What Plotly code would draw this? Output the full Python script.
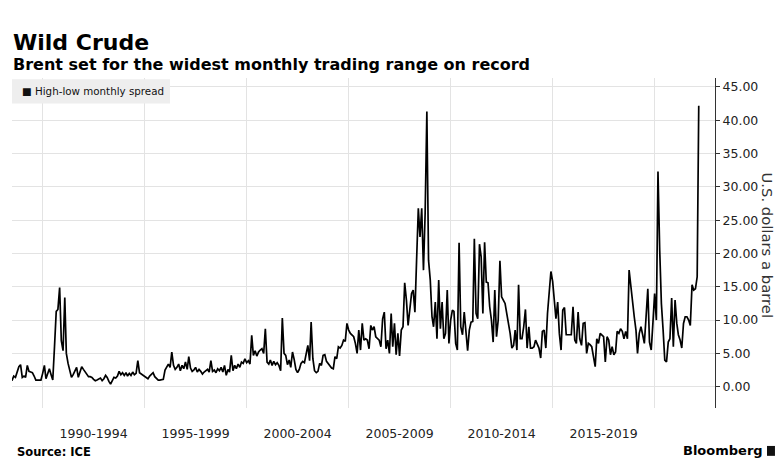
import pandas as pd
import plotly.graph_objects as go

# Monthly high-low spread of Brent (USD/bbl), Jul 1988 - Mar 2022
start_month = "1988-07-01"
y1988 = [0.9, 1.6, 1.4, 2.4, 3.0, 3.3]
y1989 = [1.4, 1.6, 1.4, 3.2, 2.3, 2.2, 2.1, 1.6, 1.0, 1.0, 1.0, 1.0]
y1990 = [2.0, 3.2, 1.2, 2.0, 2.7, 1.8, 1.0, 6.0, 11.3, 11.6, 14.9, 6.9]
y1991 = [5.4, 13.4, 5.0, 3.5, 2.2, 1.4, 1.8, 2.3, 2.9, 1.4, 2.2, 3.0]
y1992 = [2.6, 2.2, 1.7, 1.5, 1.5, 1.4, 1.1, 0.9, 1.0, 1.2, 1.3, 0.9]
y1993 = [1.2, 1.7, 1.4, 0.8, 0.4, 0.9, 1.4, 1.3, 1.6, 2.3, 1.8, 2.1]
y1994 = [1.7, 2.1, 1.6, 2.0, 1.7, 2.2, 1.8, 2.0, 3.9, 2.1, 1.9, 1.8]
y1995 = [1.5, 1.4, 1.2, 1.6, 1.9, 2.1, 1.5, 1.2, 1.0, 1.0, 1.0, 1.1]
y1996 = [2.5, 3.0, 3.4, 2.9, 5.2, 3.2, 2.6, 2.9, 3.4, 2.4, 3.2, 2.7]
y1997 = [3.7, 2.6, 4.5, 2.8, 2.3, 2.5, 2.9, 2.2, 2.6, 2.3, 1.9, 2.2]
y1998 = [2.4, 2.6, 2.2, 3.9, 2.3, 2.5, 2.1, 2.7, 2.4, 2.9, 2.2, 3.2]
y1999 = [1.7, 2.6, 2.2, 4.7, 2.4, 3.2, 2.7, 3.4, 2.9, 3.7, 3.5, 4.2]
y2000 = [3.6, 3.9, 3.4, 7.7, 4.7, 5.4, 4.6, 5.2, 5.5, 5.7, 5.0, 8.7]
y2001 = [3.7, 3.4, 4.0, 3.2, 3.8, 3.3, 3.6, 3.2, 2.4, 10.3, 5.0, 4.7]
y2002 = [3.3, 4.0, 2.9, 5.2, 4.1, 2.6, 2.1, 2.6, 3.5, 3.8, 3.6, 4.7]
y2003 = [6.2, 3.9, 9.7, 4.2, 2.4, 2.1, 2.3, 3.5, 3.2, 4.7, 4.8, 3.8]
y2004 = [3.4, 3.0, 2.8, 2.7, 4.5, 4.2, 6.0, 5.8, 6.2, 7.0, 6.8, 9.5]
y2005 = [8.5, 8.0, 7.7, 7.5, 6.5, 5.0, 8.5, 5.5, 9.5, 7.0, 7.2, 7.0]
y2006 = [5.7, 9.2, 8.5, 9.0, 7.5, 7.3, 7.0, 6.0, 10.2, 11.2, 5.7, 7.0]
y2007 = [5.0, 11.0, 6.0, 9.5, 4.8, 8.0, 4.6, 8.5, 9.0, 15.6, 13.0, 9.2]
y2008 = [11.5, 14.0, 14.5, 11.2, 19.0, 26.8, 22.5, 26.8, 17.5, 26.0, 41.3, 19.0]
y2009 = [16.0, 10.5, 9.0, 12.7, 7.2, 16.0, 8.7, 12.7, 7.2, 8.0, 14.5, 6.5]
y2010 = [10.0, 11.5, 11.3, 6.5, 5.5, 21.6, 9.0, 7.8, 11.2, 8.5, 5.4, 8.5]
y2011 = [9.7, 9.8, 22.2, 11.0, 10.2, 21.4, 19.5, 11.0, 21.7, 15.7, 15.6, 12.0]
y2012 = [10.0, 6.7, 14.5, 7.5, 10.0, 18.9, 13.5, 13.0, 12.5, 11.0, 9.5, 8.0]
y2013 = [5.8, 6.2, 8.5, 5.5, 15.3, 7.2, 7.2, 9.0, 11.6, 5.8, 9.0, 5.8]
y2014 = [5.8, 6.0, 7.0, 6.5, 5.8, 4.3, 8.3, 8.5, 5.8, 11.0, 15.0, 17.3]
y2015 = [15.8, 13.0, 10.2, 12.7, 8.0, 5.5, 11.5, 11.9, 7.8, 7.8, 7.8, 7.8]
y2016 = [12.0, 7.0, 6.5, 11.2, 7.2, 6.2, 9.5, 9.6, 5.0, 6.5, 6.3, 6.0]
y2017 = [4.5, 3.0, 7.2, 6.5, 8.0, 7.8, 7.5, 3.7, 7.5, 7.0, 4.8, 6.0]
y2018 = [4.8, 5.2, 8.3, 8.0, 8.7, 8.3, 7.2, 8.3, 7.2, 17.5, 14.8, 12.7]
y2019 = [10.5, 8.5, 5.0, 8.0, 9.0, 7.8, 6.5, 10.5, 14.7, 6.7, 5.5, 9.5]
y2020 = [14.0, 10.0, 32.3, 20.5, 12.5, 8.5, 4.0, 3.7, 6.7, 7.2, 13.3, 6.0]
y2021 = [13.0, 9.5, 7.8, 7.0, 5.8, 9.5, 10.5, 10.5, 10.0, 9.2, 15.3, 14.5]
y2022 = [14.7, 16.5, 42.2]

spread = (y1988 + y1989 + y1990 + y1991 + y1992 + y1993 + y1994 + y1995 + y1996
          + y1997 + y1998 + y1999 + y2000 + y2001 + y2002 + y2003 + y2004 + y2005
          + y2006 + y2007 + y2008 + y2009 + y2010 + y2011 + y2012 + y2013 + y2014
          + y2015 + y2016 + y2017 + y2018 + y2019 + y2020 + y2021 + y2022)
months = pd.date_range(start_month, periods=len(spread), freq="MS")

period_labels = ["1990-1994", "1995-1999", "2000-2004", "2005-2009",
                 "2010-2014", "2015-2019"]
period_mids = ["1992-07-01", "1997-07-01", "2002-07-01", "2007-07-01",
               "2012-07-01", "2017-07-01"]
grid_years = ["1990-01-01", "1995-01-01", "2000-01-01", "2005-01-01",
              "2010-01-01", "2015-01-01", "2020-01-01"]
y_ticks = [0, 5, 10, 15, 20, 25, 30, 35, 40, 45]

FONT = "DejaVu Sans"
GRID = "#e3e3e3"

fig = go.Figure()
fig.add_trace(go.Scatter(x=months, y=spread, mode="lines",
                         line=dict(color="#000000", width=1.7),
                         name="High-low monthly spread", showlegend=False))

# The page body adds an 8px margin; size the figure so the page does not overflow
fig.update_layout(
    width=768, height=460,
    margin=dict(l=4, r=61, t=70, b=60),
    paper_bgcolor="white", plot_bgcolor="white",
    font=dict(family=FONT, color="#222222"),
    xaxis=dict(
        range=["1988-07-01", "2022-12-17"],
        tickmode="array", tickvals=period_mids, ticktext=period_labels,
        showgrid=False, zeroline=False, showline=False, ticks="",
        tickfont=dict(size=12.5, color="#222222"),
        ticklabelstandoff=16,
        minor=dict(tickmode="array", tickvals=grid_years, showgrid=True,
                   gridcolor=GRID, gridwidth=1, ticks=""),
    ),
    yaxis=dict(
        range=[-3.2, 46.35], side="right",
        tickmode="array", tickvals=y_ticks, tickformat=".2f",
        showgrid=True, gridcolor=GRID, gridwidth=1, zeroline=False,
        showline=True, linecolor="#333333", linewidth=1,
        ticks="outside", ticklen=4, tickcolor="#333333",
        tickfont=dict(size=12.5, color="#222222"),
    ),
)

# Legend box
fig.add_shape(type="rect", xref="paper", yref="paper",
              x0=0.0, x1=0.2248, y0=0.923, y1=0.996,
              fillcolor="#eeeeee", line=dict(width=0), layer="above")
fig.add_annotation(xref="paper", yref="paper", x=0.011, y=0.960,
                   xanchor="left", yanchor="middle", showarrow=False,
                   text="■ High-low monthly spread",
                   font=dict(family=FONT, size=10.3, color="#111111"))

# Titles
fig.add_annotation(xref="paper", yref="paper", x=-0.0015, y=1.108,
                   xanchor="left", yanchor="middle", showarrow=False,
                   text="<b>Wild Crude</b>",
                   font=dict(family=FONT, size=22, color="#000000"))
fig.add_annotation(xref="paper", yref="paper", x=-0.0015, y=1.041,
                   xanchor="left", yanchor="middle", showarrow=False,
                   text="<b>Brent set for the widest monthly trading range on record</b>",
                   font=dict(family=FONT, size=16, color="#000000"))

# Axis title (right, reading top to bottom)
fig.add_annotation(xref="paper", yref="paper", x=1.0733, y=0.494,
                   xanchor="center", yanchor="middle", showarrow=False,
                   textangle=90, text="U.S. dollars a barrel",
                   font=dict(family=FONT, size=14.8, color="#333333"))

# Source & branding
fig.add_annotation(xref="paper", yref="paper", x=0.004, y=-0.133,
                   xanchor="left", yanchor="middle", showarrow=False,
                   text="<b>Source: ICE</b>",
                   font=dict(family=FONT, size=11.5, color="#000000"))
fig.add_annotation(xref="paper", yref="paper", x=1.0711, y=-0.130,
                   xanchor="right", yanchor="middle", showarrow=False,
                   text="<b>Bloomberg</b>",
                   font=dict(family=FONT, size=13, color="#000000"))
fig.add_shape(type="rect", xref="paper", yref="paper",
              x0=1.0740, x1=1.0853, y0=-0.145, y1=-0.115,
              fillcolor="#111111", line=dict(width=0))

fig.write_html("out.html")
